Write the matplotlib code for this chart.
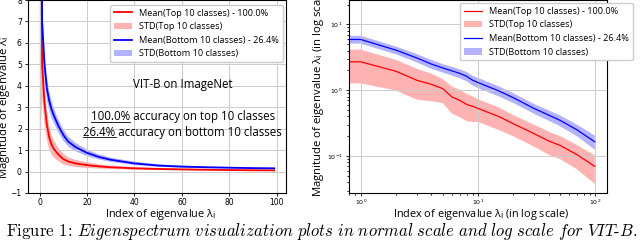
import matplotlib
matplotlib.use('Agg')
import matplotlib.pyplot as plt
from matplotlib.lines import Line2D

plt.rcParams['font.family'] = ['DejaVu Sans']
LABEL_FONT = ['Open Sans', 'DejaVu Sans']

# ---- normal scale panel (index 0..99) ----
idx_lin = [0, 1, 2, 3, 4, 5, 6, 8, 10, 12, 15, 20, 25, 30, 40, 50, 60, 70, 80, 90, 99]
top_mean_lin = [30, 5.0, 3.2, 2.2, 1.6, 1.25, 1.05, 0.78, 0.58, 0.47, 0.38, 0.30, 0.24, 0.20,
                0.15, 0.12, 0.10, 0.085, 0.07, 0.06, 0.055]
top_std_lin = [29.9, 1.5, 1.0, 0.7, 0.55, 0.45, 0.4, 0.3, 0.25, 0.2, 0.17, 0.13, 0.1, 0.08,
               0.06, 0.05, 0.04, 0.035, 0.03, 0.03, 0.025]
bot_mean_lin = [30, 7.0, 5.0, 3.9, 3.3, 2.9, 2.6, 2.1, 1.7, 1.4, 1.15, 0.87, 0.68, 0.55,
                0.38, 0.28, 0.23, 0.20, 0.18, 0.16, 0.15]
bot_std_lin = [10, 1.0, 0.7, 0.55, 0.45, 0.4, 0.35, 0.3, 0.27, 0.23, 0.2, 0.15, 0.12, 0.1,
               0.08, 0.06, 0.05, 0.04, 0.035, 0.03, 0.03]

# ---- log scale panel ----
idx_log = [0, 1, 2, 3, 4, 5, 6, 7, 8, 9, 10, 15, 20, 30, 40, 50, 70, 99]
top_mean_log = [20, 2.7, 1.94, 1.42, 1.23, 1.06, 0.79, 0.70, 0.61, 0.57, 0.53, 0.40, 0.31,
                0.22, 0.17, 0.146, 0.105, 0.07]
top_std_log = [19.9, 1.43, 0.95, 0.7, 0.55, 0.42, 0.35, 0.31, 0.27, 0.24, 0.2, 0.15, 0.11,
               0.08, 0.065, 0.056, 0.042, 0.032]
bot_mean_log = [25, 5.9, 4.06, 3.1, 2.5, 2.18, 1.97, 1.8, 1.63, 1.42, 1.31, 0.98, 0.77,
                0.53, 0.42, 0.35, 0.25, 0.165]
bot_std_log = [5, 0.8, 0.55, 0.45, 0.38, 0.32, 0.3, 0.28, 0.26, 0.24, 0.23, 0.17, 0.13,
               0.09, 0.075, 0.065, 0.05, 0.04]

labels = ['Mean(Top 10 classes) - 100.0%', 'STD(Top 10 classes)',
          'Mean(Bottom 10 classes) - 26.4%', 'STD(Bottom 10 classes)']


def band(m, s, sign):
    return [a + sign * b for a, b in zip(m, s)]


fig = plt.figure(figsize=(6.4, 2.41), dpi=100)
ax1 = fig.add_axes([28 / 640, 48 / 241, 258 / 640, 193 / 241])
ax2 = fig.add_axes([349 / 640, 48 / 241, 258 / 640, 193 / 241])

# left panel
ax1.plot(idx_lin, top_mean_lin, color='red', lw=1.3, label=labels[0])
ax1.fill_between(idx_lin, band(top_mean_lin, top_std_lin, -1), band(top_mean_lin, top_std_lin, 1),
                 color='red', alpha=0.3, lw=0, label=labels[1])
ax1.plot(idx_lin, bot_mean_lin, color='blue', lw=1.3, label=labels[2])
ax1.fill_between(idx_lin, band(bot_mean_lin, bot_std_lin, -1), band(bot_mean_lin, bot_std_lin, 1),
                 color='blue', alpha=0.3, lw=0, label=labels[3])
ax1.set_ylim(-1, 8)
ax1.set_xticks([0, 20, 40, 60, 80, 100])
ax1.set_yticks(range(-1, 9))
ax1.grid(True, color='#cccccc', lw=0.7)
ax1.tick_params(labelsize=5.5, length=2.5, width=0.6, pad=2)
ax1.tick_params(axis='x', pad=1.2)
ax1.set_xlabel('Index of eigenvalue λ$_\\mathrm{i}$', family=LABEL_FONT, fontsize=7.8)
ax1.xaxis.set_label_coords(0.515, -0.072)
ax1.set_ylabel('Magnitude of eigenvalue λ$_\\mathrm{i}$', family=LABEL_FONT, fontsize=8.2)
ax1.yaxis.set_label_coords(-0.062, 0.446)
ax1.legend(loc='upper right', bbox_to_anchor=(0.988, 0.974), borderaxespad=0,
           prop={'family': LABEL_FONT, 'size': 6.6}, edgecolor='#cccccc', framealpha=1)

ax1.text(0.60, 0.56, 'VIT-B on ImageNet', transform=ax1.transAxes, ha='center', va='center',
         family=LABEL_FONT, fontsize=8.3)
t1 = ax1.text(0.60, 0.394, '100.0% accuracy on top 10 classes', transform=ax1.transAxes,
              ha='center', va='center', family=LABEL_FONT, fontsize=8.3)
t2 = ax1.text(0.60, 0.316, '26.4% accuracy on bottom 10 classes', transform=ax1.transAxes,
              ha='center', va='center', family=LABEL_FONT, fontsize=8.3)

# right panel
ax2.plot(idx_log, top_mean_log, color='red', lw=0.9, label=labels[0])
ax2.fill_between(idx_log, band(top_mean_log, top_std_log, -1), band(top_mean_log, top_std_log, 1),
                 color='red', alpha=0.3, lw=0, label=labels[1])
ax2.plot(idx_log, bot_mean_log, color='blue', lw=0.9, label=labels[2])
ax2.fill_between(idx_log, band(bot_mean_log, bot_std_log, -1), band(bot_mean_log, bot_std_log, 1),
                 color='blue', alpha=0.3, lw=0, label=labels[3])
ax2.set_xscale('log')
ax2.set_yscale('log')
ax2.set_xlim(10 ** -0.1, 10 ** 2.1)
ax2.set_ylim(10 ** -1.56, 10 ** 1.37)
ax2.grid(True, which='major', color='#cccccc', lw=0.7)
ax2.tick_params(which='both', labelsize=4.5, width=0.6, pad=2)
ax2.tick_params(axis='x', which='both', pad=1.2)
ax2.tick_params(which='major', length=2.5)
ax2.tick_params(which='minor', length=1.5)
ax2.set_xlabel('Index of eigenvalue λ$_\\mathrm{i}$ (in log scale)', family=LABEL_FONT, fontsize=7.8)
ax2.xaxis.set_label_coords(0.512, -0.072)
ax2.set_ylabel('Magnitude of eigenvalue λ$_\\mathrm{i}$ (in log scale)', family=LABEL_FONT,
               fontsize=8.2, ha='left')
ax2.yaxis.set_label_coords(-0.088, -0.02)
ax2.legend(loc='upper right', bbox_to_anchor=(1.10, 0.984), borderaxespad=0,
           prop={'family': LABEL_FONT, 'size': 6.6}, edgecolor='#cccccc', framealpha=1)

# caption
cap = fig.text(6 / 640, 1 - 236 / 241,
               'Figure 1: $\\mathit{Eigenspectrum\\ visualization\\ plots\\ in\\ normal\\ scale'
               '\\ and\\ log\\ scale\\ for\\ VIT}$-$\\mathit{B}$.',
               family='cmr10', math_fontfamily='cm', fontsize=10.5, ha='left', va='baseline')

fig.canvas.draw()
r = fig.canvas.get_renderer()
w = cap.get_window_extent(r).width
cap.set_fontsize(10.5 * 632 / w)

# underline the accuracy numbers
inv = fig.transFigure.inverted()
for t, pre in [(t1, '100.0%'), (t2, '26.4%')]:
    bb = t.get_window_extent(r)
    tmp = fig.text(0, 0, pre, family=LABEL_FONT, fontsize=8.3)
    pw = tmp.get_window_extent(r).width
    tmp.remove()
    y = bb.y0 + 1.5
    (xa, ya), (xb, yb) = inv.transform([(bb.x0, y), (bb.x0 + pw, y)])
    fig.add_artist(Line2D([xa, xb], [ya, yb], color='black', lw=0.6))

fig.savefig('out.png', dpi=100)
